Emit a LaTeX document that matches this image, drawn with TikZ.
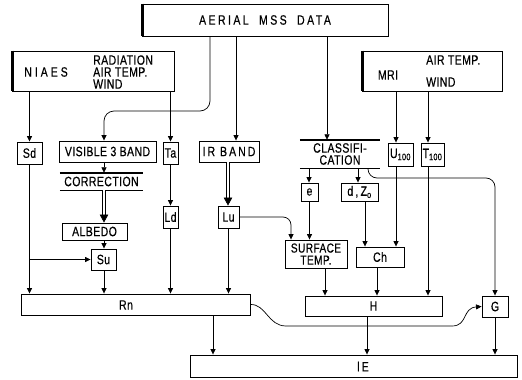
\documentclass[tikz,border=0pt]{standalone}
\usepackage{fontspec}
\setmainfont[FakeStretch=0.78,LetterSpace=3,FakeBold=0.4]{Liberation Sans}
\newfontfamily\widefont[FakeStretch=0.78,LetterSpace=22,FakeBold=0.4]{Liberation Sans}
\newfontfamily\titlefont[FakeStretch=0.78,LetterSpace=18,FakeBold=0.4]{Liberation Sans}
\newfontfamily\midfont[FakeStretch=0.78,LetterSpace=15,FakeBold=0.4]{Liberation Sans}
\usetikzlibrary{arrows.meta,calc}
\begin{document}
\begin{tikzpicture}[x=1pt,y=-1pt,
  font=\fontsize{13.5}{12}\selectfont,
  box/.style 2 args={draw, line width=0.9pt, inner sep=0pt, minimum width=#1, minimum height=#2},
  plain/.style 2 args={inner sep=0pt, minimum width=#1, minimum height=#2, align=center},
  txt/.style={inner sep=0pt},
  arr/.style={line width=0.7pt, -{Triangle[length=5.5pt,width=5pt]}},
  dblline/.style={double, double distance=1.8pt, line width=0.7pt},
  bigtip/.style={line width=0.7pt, -{Triangle[length=8pt,width=8.5pt]}},
  bar/.style={line width=1.4pt},
  heavy/.style={line width=3pt}]
\fill[white] (0,0) rectangle (522,380);
\useasboundingbox (0,0) rectangle (522,380);

% top boxes
\node[box={246}{32}] (aerial) at (265,20) {\titlefont AERIAL\hspace{5pt} MSS\hspace{5pt} DATA};
\draw[heavy] ([xshift=1.2pt]aerial.north west) -- ([xshift=1.2pt]aerial.south west);
\node[box={162}{40}] (niaes) at (93,71) {};
\draw[heavy] ([xshift=1.2pt]niaes.north west) -- ([xshift=1.2pt]niaes.south west);
\node[txt] (niaesA) at (46,72) {\widefont NIAES};
\node[txt, align=left, anchor=west] (niaesB) at (93,72) {RADIATION\\AIR TEMP.\\WIND};
\node[box={140}{40}] (mri) at (432,71) {};
\draw[heavy] ([xshift=1.2pt]mri.north west) -- ([xshift=1.2pt]mri.south west);
\node[txt] (mriA) at (388,75) {MRI};
\node[txt, align=left, anchor=west] (mriB) at (426,71) {AIR TEMP.\\[10pt]WIND};

% second row
\node[box={25}{22}] (Sd) at (29.5,153) {Sd};
\node[box={97}{21}] (vis) at (107.5,151.5) {VISIBLE 3 BAND};
\node[box={15}{22}] (Ta) at (170.5,153) {Ta};
\node[box={60}{21}] (ir) at (229,151.5) {\midfont IR BAND};
\node[plain={80}{28}] (class) at (340,154) {CLASSIFI-\\CATION};
\draw[bar] (class.north west) -- (class.north east);
\draw[bar] (class.south west) -- (class.south east);
\node[box={25}{23}] (U) at (400.5,154.5) {U\textsubscript{100}};
\node[box={23}{23}] (T) at (432.5,154.5) {T\textsubscript{100}};

% middle
\node[plain={83}{17}] (corr) at (101.5,181.5) {CORRECTION};
\draw[bar] (corr.north west) -- (corr.north east);
\draw[bar] (corr.south west) -- (corr.south east);
\node[box={15}{22}] (Ld) at (170.5,217) {Ld};
\node[box={21}{22}] (Lu) at (228.5,217) {Lu};
\node[box={17}{18}] (e) at (309.5,192) {e};
\node[box={37}{18}] (dz) at (359.5,192) {d\,,\,Z\textsubscript{o}};
\node[box={65}{17}] (alb) at (94.5,231.5) {ALBEDO};
\node[box={25}{21}] (Su) at (103.5,259.5) {Su};
\node[box={62}{28}, align=center, font=\fontsize{13}{12}\selectfont] (surf) at (316,254) {SURFACE\\TEMP.};
\node[box={48}{20}] (Ch) at (380,257) {Ch};

% bottom
\node[box={229}{21}] (Rn) at (135.5,304.5) {};
\node[txt] (RnT) at (126,305) {Rn};
\node[box={137}{20}] (H) at (373.5,306) {H};
\node[box={26}{21}] (G) at (495,306.5) {G};
\node[box={327}{22}] (lE) at (353.5,366) {};
\node[txt] (lET) at (363,366.5) {\midfont lE};

% helper coordinates
\coordinate (xA) at (210,0);
\coordinate (xB) at (236,0);
\coordinate (xC) at (327,0);
\coordinate (xV) at (104,0);
\coordinate (xU) at (396,0);
\coordinate (xT) at (428,0);
\coordinate (xIR) at (228,0);
\coordinate (xL) at (291,0);
\coordinate (xE) at (309,0);
\coordinate (xD) at (358,0);
\coordinate (xD2) at (365,0);
\coordinate (xK) at (368,0);
\coordinate (xS) at (325,0);
\coordinate (xCh) at (377,0);
\coordinate (xRn) at (213,0);
\coordinate (xH) at (367,0);
\coordinate (yH) at (0,111);
\coordinate (yK) at (0,178);

% connectors
\draw[arr, rounded corners=10pt] (aerial.south -| xA) -- (xA |- yH) -| (vis.north -| xV);
\draw[arr] (aerial.south -| xB) -- (ir.north -| xB);
\draw[arr] (aerial.south -| xC) -- (class.north -| xC);
\draw[arr] (niaes.south -| Sd.north) -- (Sd.north);
\draw[arr] (niaes.south -| Ta.north) -- (Ta.north);
\draw[arr] (mri.south -| xU) -- (U.north -| xU);
\draw[arr] (mri.south -| xT) -- (T.north -| xT);
\draw[arr] (vis.south -| xV) -- (corr.north -| xV);
\draw[dblline] (corr.south -| xV) -- ($(alb.north -| xV)+(0,-7)$);
\draw[bigtip] ($(alb.north -| xV)+(0,-8)$) -- (alb.north -| xV);
\draw[arr] (alb.south -| xV) -- (Su.north -| xV);
\draw[arr] (Sd.south) -- (Sd.south |- Rn.north);
\draw[arr] (Sd.south |- Su.west) -- (Su.west);
\draw[arr] (Su.south -| xV) -- (Rn.north -| xV);
\draw[arr] (Ta.south) -- (Ld.north);
\draw[arr] (Ld.south) -- (Ld.south |- Rn.north);
\draw[dblline] (ir.south -| xIR) -- ($(Lu.north -| xIR)+(0,-7)$);
\draw[bigtip] ($(Lu.north -| xIR)+(0,-8)$) -- (Lu.north -| xIR);
\draw[arr] (Lu.south) -- (Lu.south |- Rn.north);
\draw[arr, rounded corners=8pt] (Lu.east) -| (surf.north -| xL);
\draw[arr] (class.south -| xE) -- (e.north -| xE);
\draw[arr] (class.south -| xD) -- (dz.north -| xD);
\draw[arr, rounded corners=9pt] (class.south -| xK) |- (G.north |- yK) -- (G.north);
\draw[arr] (e.south) -- (e.south |- surf.north);
\draw[arr] (dz.south -| xD2) -- (Ch.north -| xD2);
\draw[arr] (U.south -| xU) -- (Ch.north -| xU);
\draw[arr] (T.south -| xT) -- (H.north -| xT);
\draw[arr] (surf.south -| xS) -- (H.north -| xS);
\draw[arr] (Ch.south -| xCh) -- (H.north -| xCh);
\draw[arr] (Rn.east) .. controls (266,304) and (268,326) .. (286,326) -- (452,326) .. controls (468,326) and (462,308) .. (G.west);
\draw[arr] (Rn.south -| xRn) -- (lE.north -| xRn);
\draw[arr] (H.south -| xH) -- (lE.north -| xH);
\draw[arr] (G.south) -- (G.south |- lE.north);
\end{tikzpicture}
\end{document}
